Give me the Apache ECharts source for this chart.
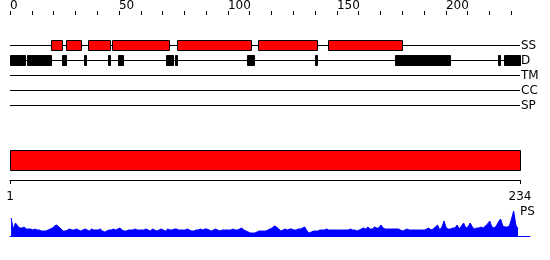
<!DOCTYPE html>
<html><head><meta charset="utf-8">
<script src="https://cdn.jsdelivr.net/npm/echarts@6/dist/echarts.min.js"></script>
<style>html,body{margin:0;padding:0;background:#fff}#c{width:550px;height:260px}</style>
</head><body><div id="c"></div>
<script>
const seqLength = 234;
const tracks = ['SS', 'D', 'TM', 'CC', 'SP'];
const topTicks = [0,10,20,30,40,50,60,70,80,90,100,110,120,130,140,150,160,170,180,190,200,210,220,230];
const topTickLabels = [0, 50, 100, 150, 200];
const rulerLabels = [1, 234];
const psLabel = 'PS';
// secondary structure (helices) : [start, end] residues
const ssHelices = [[20,24],[27,33],[37,46],[48,73],[78,111],[115,141],[147,180]];
// disordered regions
const disorder = [[1,7],[9,19],[25,26],[35,35],[46,46],[51,52],[73,75],[77,77],[110,112],[141,141],[178,202],[225,225],[228,234]];
const domains = [[1,234]];
// PS score per residue 1..234
const psScores = [
18,7,13,10,8,8,9,7,7,7,
6,7,6,6,5,5,5,6,7,8,
10,11,9,7,5,5,6,7,6,6,
7,6,5,6,7,6,5,7,6,6,
6,7,5,4,5,6,6,7,6,7,
8,6,5,5,6,6,6,7,6,6,
6,6,7,6,5,7,6,5,6,7,
6,5,7,6,6,7,7,6,6,6,
6,7,6,5,5,6,6,7,6,7,
7,6,5,6,7,6,5,6,6,6,
6,6,7,6,6,7,8,6,5,4,
3,3,3,4,5,5,5,5,6,7,
8,10,9,7,5,6,7,6,7,7,
6,6,7,7,8,9,5,3,4,5,
5,5,6,6,6,7,6,6,6,6,
6,6,6,6,6,6,7,6,6,5,
6,7,8,7,9,7,7,9,8,8,
11,8,7,7,7,7,7,7,7,6,
5,6,7,6,6,6,6,6,6,6,
6,7,8,6,7,9,11,6,9,15,
8,7,7,8,8,11,7,10,13,8,
9,13,9,7,8,8,9,8,10,12,
15,9,8,10,14,17,10,9,9,10,
17,25,11,7
];

const FONT = 'DejaVu Sans';
const chart = echarts.init(document.getElementById('c'), null, {renderer: 'canvas'});

function boxRenderer(fill, h) {
  return function (params, api) {
    const cat = api.value(2);
    const p0 = api.coord([api.value(0) - 1, cat]);
    const p1 = api.coord([api.value(1), cat]);
    const x0 = Math.floor(p0[0]) + 0.5;
    const x1 = Math.floor(p1[0]) + 0.5;
    return {
      type: 'rect',
      shape: {x: x0, y: p0[1] - h / 2, width: x1 - x0, height: h},
      style: {fill: fill, stroke: '#000', lineWidth: 1}
    };
  };
}

const option = {
  animation: false,
  textStyle: {fontFamily: FONT},
  title: {text: psLabel, left: 520, top: 206, padding: 0,
          textStyle: {fontSize: 12, fontWeight: 'normal', color: '#000', fontFamily: FONT}},
  grid: [
    {left: 10, width: 510, top: 38, height: 75},
    {left: 10, width: 510, top: 145, height: 31},
    {left: 10, width: 510, top: 170, height: 10},
    {left: 10, width: 520, top: 211, height: 25}
  ],
  xAxis: [
    {gridIndex: 0, type: 'value', min: 0, max: seqLength, position: 'top', offset: 23,
     axisLine: {lineStyle: {color: '#000', width: 1}},
     axisTick: {show: true, customValues: topTicks, length: 4, inside: false, lineStyle: {color: '#000'}},
     axisLabel: {customValues: topTickLabels, align: 'left', margin: 3, fontSize: 12, color: '#000', fontFamily: FONT},
     splitLine: {show: false}},
    {gridIndex: 1, type: 'value', min: 0, max: seqLength, show: false, splitLine: {show: false}},
    {gridIndex: 2, type: 'value', min: 1, max: seqLength, position: 'bottom',
     axisLine: {lineStyle: {color: '#000', width: 1}},
     axisTick: {show: true, customValues: rulerLabels, length: 4, lineStyle: {color: '#000'}},
     axisLabel: {customValues: rulerLabels, margin: 11, fontSize: 12, color: '#000', fontFamily: FONT},
     splitLine: {show: false}},
    {gridIndex: 3, type: 'value', min: 0, max: 239,
     axisLine: {lineStyle: {color: '#0000ff', width: 1}},
     axisTick: {show: false}, axisLabel: {show: false}, splitLine: {show: false}}
  ],
  yAxis: [
    {gridIndex: 0, type: 'category', data: tracks, inverse: true, position: 'right',
     axisLine: {show: false}, axisTick: {show: false}, splitLine: {show: false},
     axisLabel: {interval: 0, margin: 1, fontSize: 12, color: '#000', fontFamily: FONT}},
    {gridIndex: 1, type: 'category', data: ['domain'], show: false},
    {gridIndex: 2, type: 'value', show: false, splitLine: {show: false}},
    {gridIndex: 3, type: 'value', min: 0, max: 25, show: false, splitLine: {show: false}}
  ],
  series: [
    {type: 'custom', xAxisIndex: 0, yAxisIndex: 0, encode: {x: [0, 1], y: 2},
     data: tracks.map(t => [0, seqLength, t]),
     renderItem: function (params, api) {
       const cat = api.value(2);
       const a = api.coord([api.value(0), cat]);
       const b = api.coord([api.value(1), cat]);
       return {type: 'line', shape: {x1: a[0], y1: a[1], x2: b[0], y2: b[1]},
               style: {stroke: '#000', lineWidth: 1}};
     }, z: 1},
    {type: 'custom', xAxisIndex: 0, yAxisIndex: 0, encode: {x: [0, 1], y: 2},
     data: ssHelices.map(([s, e]) => [s, e, 'SS']), renderItem: boxRenderer('#ff0000', 10), z: 2},
    {type: 'custom', xAxisIndex: 0, yAxisIndex: 0, encode: {x: [0, 1], y: 2},
     data: disorder.map(([s, e]) => [s, e, 'D']), renderItem: boxRenderer('#000000', 10), z: 2},
    {type: 'custom', xAxisIndex: 1, yAxisIndex: 1, encode: {x: [0, 1], y: 2},
     data: domains.map(([s, e]) => [s, e, 'domain']), renderItem: boxRenderer('#ff0000', 20), z: 2},
    {type: 'line', xAxisIndex: 3, yAxisIndex: 3, symbol: 'none', smooth: false,
     data: psScores.map((v, i) => [i + 0.5, v]),
     lineStyle: {color: '#0000ff', width: 1}, itemStyle: {color: '#0000ff'},
     areaStyle: {color: '#0000ff', opacity: 1}}
  ]
};
chart.setOption(option);
</script>
</body></html>
